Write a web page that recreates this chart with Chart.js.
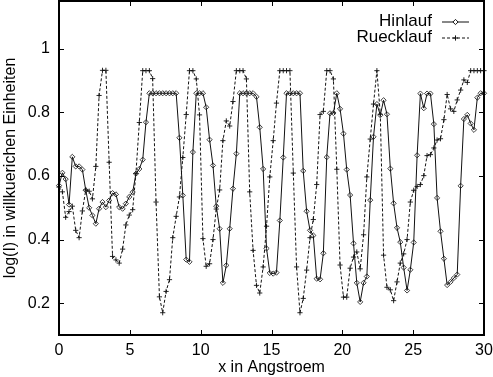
<!DOCTYPE html>
<html>
<head>
<meta charset="utf-8">
<script src="https://cdn.jsdelivr.net/npm/chart.js@4.4.0/dist/chart.umd.min.js"></script>
<style>
  body { margin: 0; background: #fff; }
  canvas { display: block; }
</style>
</head>
<body>
<canvas id="grafica" width="493" height="377"></canvas>
<script>
// posiciones de las muestras (Angstroem)
const posX = [
  0.00, 0.24, 0.47, 0.71, 0.94, 1.18, 1.42, 1.65, 1.89, 2.13,
  2.36, 2.60, 2.83, 3.07, 3.31, 3.54, 3.78, 4.02, 4.25, 4.49,
  4.72, 4.96, 5.20, 5.43, 5.67, 5.91, 6.14, 6.38, 6.61, 6.85,
  7.09, 7.32, 7.56, 7.80, 8.03, 8.27, 8.50, 8.74, 8.98, 9.21,
  9.45, 9.69, 9.92, 10.16, 10.39, 10.63, 10.87, 11.10, 11.34, 11.57,
  11.81, 12.05, 12.28, 12.52, 12.76, 12.99, 13.23, 13.46, 13.70, 13.94,
  14.17, 14.41, 14.65, 14.88, 15.12, 15.35, 15.59, 15.83, 16.06, 16.30,
  16.54, 16.77, 17.01, 17.24, 17.48, 17.72, 17.95, 18.19, 18.43, 18.66,
  18.90, 19.13, 19.37, 19.61, 19.84, 20.08, 20.31, 20.55, 20.79, 21.02,
  21.26, 21.50, 21.73, 21.97, 22.20, 22.44, 22.68, 22.91, 23.15, 23.39,
  23.62, 23.86, 24.09, 24.33, 24.57, 24.80, 25.04, 25.28, 25.51, 25.75,
  25.98, 26.22, 26.46, 26.69, 26.93, 27.17, 27.40, 27.64, 27.87, 28.11,
  28.35, 28.58, 28.82, 29.06, 29.29, 29.53, 29.76, 30.00
];

const hinlauf = [
  0.57, 0.61, 0.59, 0.51, 0.66, 0.63, 0.63, 0.62, 0.555, 0.50,
  0.476, 0.45, 0.497, 0.518, 0.502, 0.523, 0.546, 0.542, 0.502, 0.497,
  0.513, 0.534, 0.549, 0.607, 0.622, 0.651, 0.769, 0.86, 0.86, 0.86,
  0.86, 0.86, 0.86, 0.86, 0.86, 0.86, 0.72, 0.539, 0.337, 0.33,
  0.675, 0.86, 0.86, 0.86, 0.816, 0.714, 0.633, 0.505, 0.434, 0.264,
  0.319, 0.434, 0.56, 0.67, 0.86, 0.86, 0.86, 0.86, 0.86, 0.849,
  0.753, 0.622, 0.372, 0.295, 0.293, 0.296, 0.46, 0.658, 0.86, 0.86,
  0.86, 0.86, 0.86, 0.616, 0.489, 0.429, 0.413, 0.277, 0.275, 0.357,
  0.659, 0.797, 0.798, 0.86, 0.811, 0.733, 0.62, 0.54, 0.388, 0.264,
  0.204, 0.264, 0.284, 0.524, 0.723, 0.826, 0.791, 0.838, 0.794, 0.623,
  0.514, 0.437, 0.392, 0.312, 0.24, 0.305, 0.391, 0.665, 0.859, 0.813,
  0.859, 0.859, 0.763, 0.531, 0.426, 0.34, 0.257, 0.267, 0.279, 0.29,
  0.569, 0.779, 0.792, 0.765, 0.745, 0.846, 0.86, 0.86
];

const ruecklauf = [
  0.565, 0.55, 0.47, 0.488, 0.505, 0.429, 0.406, 0.49, 0.556, 0.552,
  0.528, 0.63, 0.853, 0.932, 0.932, 0.643, 0.347, 0.336, 0.326, 0.37,
  0.446, 0.477, 0.494, 0.608, 0.768, 0.931, 0.931, 0.931, 0.906, 0.518,
  0.22, 0.17, 0.237, 0.274, 0.406, 0.473, 0.534, 0.658, 0.793, 0.931,
  0.931, 0.905, 0.792, 0.403, 0.316, 0.324, 0.40, 0.496, 0.556, 0.711,
  0.773, 0.757, 0.834, 0.931, 0.931, 0.931, 0.905, 0.55, 0.366, 0.256,
  0.232, 0.314, 0.442, 0.597, 0.711, 0.829, 0.931, 0.931, 0.931, 0.931,
  0.609, 0.314, 0.17, 0.215, 0.304, 0.406, 0.463, 0.573, 0.793, 0.803,
  0.931, 0.931, 0.905, 0.621, 0.32, 0.219, 0.219, 0.31, 0.345, 0.361,
  0.308, 0.415, 0.597, 0.716, 0.826, 0.931, 0.794, 0.351, 0.25, 0.242,
  0.208, 0.267, 0.326, 0.355, 0.40, 0.518, 0.555, 0.567, 0.573, 0.601,
  0.664, 0.667, 0.688, 0.713, 0.717, 0.777, 0.856, 0.811, 0.803, 0.839,
  0.87, 0.902, 0.894, 0.931, 0.931, 0.931, 0.931, 0.931
];

const xTicks = [0, 5, 10, 15, 20, 25, 30];
const yTicks = [0.2, 0.4, 0.6, 0.8, 1];
const yTickLabels = ['0.2', '0.4', '0.6', '0.8', '1'];

const fuente = "'Liberation Sans', Arial, sans-serif";

function puntos(ys) {
  return ys.map((y, i) => ({ x: posX[i], y: y }));
}

// marco, ticks hacia dentro y leyenda estilo gnuplot
const marco = {
  id: 'marco',
  afterDraw(chart) {
    const { ctx, chartArea: a, scales } = chart;
    ctx.save();
    ctx.strokeStyle = '#000';
    ctx.lineWidth = 1;
    ctx.beginPath();
    xTicks.forEach(v => {
      const px = Math.round(scales.x.getPixelForValue(v)) + 0.5;
      ctx.moveTo(px, a.bottom); ctx.lineTo(px, a.bottom - 5);
      ctx.moveTo(px, a.top); ctx.lineTo(px, a.top + 5);
    });
    yTicks.forEach(v => {
      const py = Math.round(scales.y.getPixelForValue(v)) + 0.5;
      ctx.moveTo(a.left, py); ctx.lineTo(a.left + 5, py);
      ctx.moveTo(a.right, py); ctx.lineTo(a.right - 5, py);
    });
    ctx.stroke();
    ctx.lineWidth = 2;
    ctx.strokeRect(a.left, a.top, a.right - a.left, a.bottom - a.top);

    // leyenda
    const filas = [21.5, 37.5];
    ctx.font = '17px ' + fuente;
    ctx.fillStyle = '#000';
    ctx.textAlign = 'right';
    ctx.textBaseline = 'middle';
    chart.data.datasets.forEach((ds, k) => {
      const y = filas[k];
      ctx.fillText(ds.label, 432, y);
      ctx.lineWidth = 1;
      ctx.strokeStyle = ds.borderColor;
      ctx.setLineDash(ds.borderDash || []);
      ctx.beginPath();
      ctx.moveTo(442, y + 0.5); ctx.lineTo(469, y + 0.5);
      ctx.stroke();
      ctx.setLineDash([]);
      const mx = 455.5, my = y + 0.5, r = ds.pointRadius;
      ctx.beginPath();
      if (ds.pointStyle === 'rectRot') {
        ctx.moveTo(mx, my - r); ctx.lineTo(mx + r, my);
        ctx.lineTo(mx, my + r); ctx.lineTo(mx - r, my); ctx.closePath();
        ctx.fillStyle = '#fff';
        ctx.fill();
      } else {
        ctx.moveTo(mx - r, my); ctx.lineTo(mx + r, my);
        ctx.moveTo(mx, my - r); ctx.lineTo(mx, my + r);
      }
      ctx.stroke();
      ctx.fillStyle = '#000';
    });
    ctx.restore();
  }
};

new Chart(document.getElementById('grafica').getContext('2d'), {
  type: 'scatter',
  data: {
    datasets: [
      {
        label: 'Hinlauf',
        data: puntos(hinlauf),
        showLine: true,
        borderColor: '#111',
        borderWidth: 1,
        pointStyle: 'rectRot',
        pointRadius: 2.6,
        pointBorderWidth: 0.8,
        pointBackgroundColor: 'rgba(255,255,255,0)',
        pointBorderColor: '#111',
        clip: false
      },
      {
        label: 'Ruecklauf',
        data: puntos(ruecklauf),
        showLine: true,
        borderColor: '#111',
        borderWidth: 1,
        borderDash: [3, 2],
        pointStyle: 'cross',
        pointRadius: 2.6,
        pointBorderWidth: 0.9,
        pointBorderColor: '#111',
        clip: false
      }
    ]
  },
  options: {
    responsive: false,
    animation: false,
    devicePixelRatio: 1,
    layout: { autoPadding: false, padding: { top: 1, right: 9, left: 0, bottom: 0 } },
    plugins: {
      legend: { display: false },
      tooltip: { enabled: false }
    },
    scales: {
      x: {
        type: 'linear',
        min: 0,
        max: 30,
        grid: { display: false, drawTicks: false },
        border: { display: false },
        afterBuildTicks: s => { s.ticks = xTicks.map(v => ({ value: v })); },
        afterFit: s => { s.height = 42; s.paddingLeft = 0; s.paddingRight = 0; },
        ticks: {
          padding: 6,
          color: '#000',
          font: { family: fuente, size: 16 },
          maxRotation: 0,
          autoSkip: false
        },
        title: {
          display: true,
          text: 'x in Angstroem',
          color: '#000',
          font: { family: fuente, size: 16 },
          padding: { top: 0, bottom: 0 }
        }
      },
      y: {
        type: 'linear',
        min: 0.1,
        max: 1.15,
        grid: { display: false, drawTicks: false },
        border: { display: false },
        afterBuildTicks: s => { s.ticks = yTicks.map(v => ({ value: v })); },
        afterFit: s => { s.width = 59; s.paddingTop = 0; s.paddingBottom = 0; },
        ticks: {
          padding: 9,
          color: '#000',
          font: { family: fuente, size: 16 },
          autoSkip: false,
          callback: v => yTickLabels[yTicks.indexOf(v)]
        },
        title: {
          display: true,
          text: 'log(I) in willkuerichen Einheiten',
          color: '#000',
          font: { family: fuente, size: 16 },
          padding: { top: 1, bottom: 0 }
        }
      }
    }
  },
  plugins: [marco]
});
</script>
</body>
</html>
